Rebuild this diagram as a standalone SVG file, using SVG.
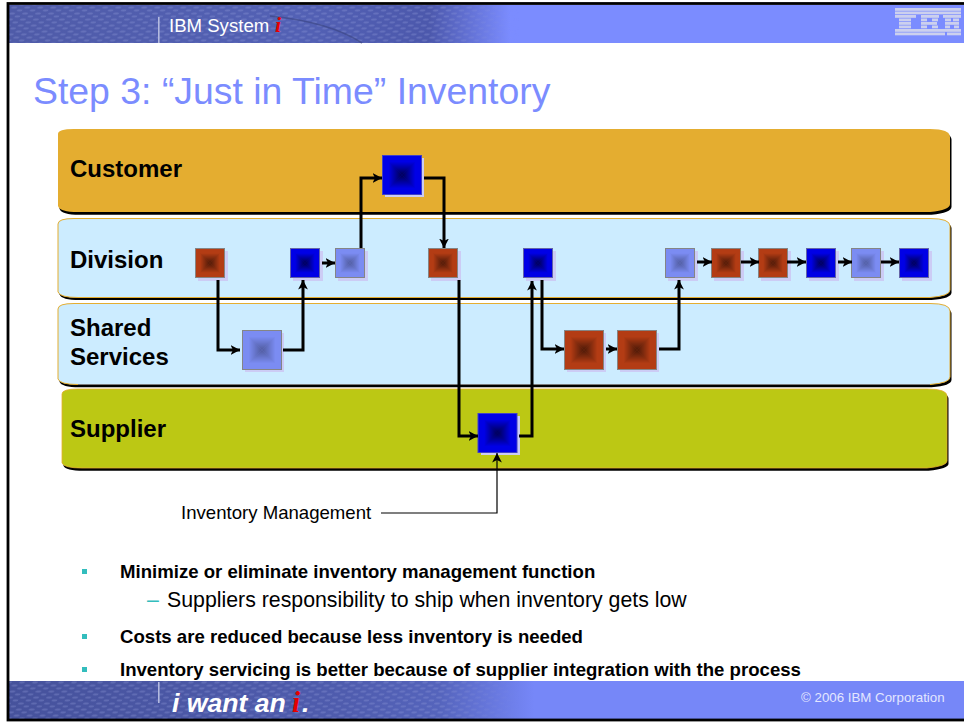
<svg xmlns="http://www.w3.org/2000/svg" width="964" height="723" viewBox="0 0 964 723">
<style>
text{font-family:"Liberation Sans",Arial,sans-serif;fill:#000}
.lab{font-size:24px;font-weight:bold}
.b{font-size:18.6px;font-weight:bold}
.ln{fill:none;stroke:#000;stroke-width:3;marker-end:url(#ah)}
.sh{fill:#ccccf5}
.blue{fill:#0000e6;stroke:#6464a8;stroke-width:1}
.red{fill:#b33c14;stroke:#858585;stroke-width:1}
.lite{fill:#7b8cf2;stroke:#858585;stroke-width:1}
.ored{opacity:.88}
.olite{opacity:.52}
.bul{fill:#33bdbd}
</style>
<defs>
<marker id="ah" markerUnits="userSpaceOnUse" markerWidth="11" markerHeight="11" refX="9.5" refY="5.5" orient="auto"><path d="M0,0.6L9.5,5.5L0,10.4L2.5,5.5Z" fill="#000"/></marker>
<marker id="ah2" markerUnits="userSpaceOnUse" markerWidth="11" markerHeight="11" refX="9.5" refY="5.5" orient="auto"><path d="M0,0.6L9.5,5.5L0,10.4L2.5,5.5Z" fill="#000"/></marker>
<linearGradient id="gT" x1="0" y1="0" x2="0" y2="1"><stop offset="0.3" stop-opacity="0"/><stop offset="1" stop-opacity="0.65"/></linearGradient>
<linearGradient id="gB" x1="0" y1="1" x2="0" y2="0"><stop offset="0.3" stop-opacity="0"/><stop offset="1" stop-opacity="0.65"/></linearGradient>
<linearGradient id="gL" x1="0" y1="0" x2="1" y2="0"><stop offset="0.3" stop-opacity="0"/><stop offset="1" stop-opacity="0.65"/></linearGradient>
<linearGradient id="gR" x1="1" y1="0" x2="0" y2="0"><stop offset="0.3" stop-opacity="0"/><stop offset="1" stop-opacity="0.65"/></linearGradient>
<symbol id="pyr" viewBox="0 0 30 30" preserveAspectRatio="none">
<polygon points="0,0 30,0 15,15" fill="url(#gT)"/><polygon points="0,30 30,30 15,15" fill="url(#gB)"/><polygon points="0,0 0,30 15,15" fill="url(#gL)"/><polygon points="30,0 30,30 15,15" fill="url(#gR)"/>
</symbol>
<linearGradient id="hdr" gradientUnits="userSpaceOnUse" x1="9" y1="0" x2="964" y2="0"><stop offset="0" stop-color="#4f5ba8"/><stop offset="0.3" stop-color="#5361b5"/><stop offset="0.44" stop-color="#4c58ac"/><stop offset="0.525" stop-color="#7b8cff"/><stop offset="1" stop-color="#7b8cff"/></linearGradient>
<linearGradient id="ftr" gradientUnits="userSpaceOnUse" x1="9" y1="0" x2="964" y2="0"><stop offset="0" stop-color="#46529c"/><stop offset="0.35" stop-color="#4f5cae"/><stop offset="0.45" stop-color="#5564bc"/><stop offset="0.55" stop-color="#7687f8"/><stop offset="1" stop-color="#7687f8"/></linearGradient>
<pattern id="tex" width="13" height="6" patternUnits="userSpaceOnUse" patternTransform="skewX(-20)"><ellipse cx="4" cy="1.5" rx="3" ry="1.1" fill="#98a3e0" opacity="0.3"/><ellipse cx="10.500" cy="4.5" rx="3" ry="1.1" fill="#98a3e0" opacity="0.3"/></pattern>
<linearGradient id="fade" gradientUnits="userSpaceOnUse" x1="0" y1="0" x2="520" y2="0"><stop offset="0" stop-color="#fff"/><stop offset="0.85" stop-color="#fff"/><stop offset="1" stop-color="#000"/></linearGradient>
<mask id="texm" maskUnits="userSpaceOnUse" x="0" y="0" width="964" height="723"><rect x="0" y="0" width="520" height="723" fill="url(#fade)"/></mask>
<filter id="soft" x="-5%" y="-5%" width="110%" height="110%"><feGaussianBlur stdDeviation="0.45"/></filter>
</defs>
<rect width="964" height="723" fill="#fff"/>
<g id="frame">
<rect x="9" y="5" width="955" height="38" fill="url(#hdr)"/>
<rect x="9" y="681" width="955" height="38" fill="url(#ftr)"/>
<g mask="url(#texm)"><rect x="9" y="5" width="510" height="38" fill="url(#tex)"/><rect x="9" y="681" width="510" height="38" fill="url(#tex)"/></g>
<path d="M270,16Q330,22 362,43" fill="none" stroke="#39437f" stroke-width="1.500" opacity="0.6"/>
<rect x="8" y="3.500" width="970" height="716.500" fill="none" stroke="#000" stroke-width="2.800"/>
<rect x="158" y="17" width="1.600" height="26" fill="#b4badf"/>
<rect x="158" y="682" width="1.600" height="21" fill="#b4badf"/>
<text x="169" y="31.500" font-size="18.600" style="fill:#fff">IBM System</text>
<text x="275" y="31.500" font-size="22" font-weight="bold" font-style="italic" style="font-family:'Liberation Serif',serif;fill:#e60000">i</text>
<text x="172" y="711.500" font-size="26.600" font-weight="bold" font-style="italic" style="fill:#fff">i want an</text>
<text x="292" y="711.500" font-size="29" font-weight="bold" font-style="italic" style="font-family:'Liberation Serif',serif;fill:#e60000">i</text>
<text x="302" y="711.500" font-size="26.600" font-weight="bold" font-style="italic" style="fill:#fff">.</text>
<text x="801" y="702" font-size="13.300" style="fill:#e3e6ff">© 2006 IBM Corporation</text>
<g id="logo" fill="#ccd0ee" filter="url(#soft)">
<rect x="895" y="8" width="66" height="2.800"/><rect x="895" y="11.500" width="66" height="2.800"/>
<rect x="895" y="15" width="21" height="2.800"/><rect x="921" y="15" width="18" height="2.800"/><rect x="943" y="15" width="18" height="2.800"/>
<rect x="899" y="18.500" width="12" height="2.800"/><rect x="921" y="18.500" width="6" height="2.800"/><rect x="932" y="18.500" width="6" height="2.800"/><rect x="945" y="18.500" width="6" height="2.800"/><rect x="953" y="18.500" width="6" height="2.800"/>
<rect x="899" y="22" width="12" height="2.800"/><rect x="921" y="22" width="16" height="2.800"/><rect x="945" y="22" width="14" height="2.800"/>
<rect x="899" y="25.500" width="12" height="2.800"/><rect x="921" y="25.500" width="6" height="2.800"/><rect x="932" y="25.500" width="6" height="2.800"/><rect x="945" y="25.500" width="5" height="2.800"/><rect x="954" y="25.500" width="5" height="2.800"/>
<rect x="895" y="29" width="66" height="2.800"/><rect x="895" y="32.500" width="50" height="2.800"/><rect x="947" y="32.500" width="14" height="2.800"/>
</g>
</g>
<text id="title" x="33" y="104" font-size="37.400" style="fill:#7b8cff">Step 3: “Just in Time” Inventory</text>
<g id="band-customer">
<path transform="translate(1.500,2.800)" d="M58,134Q58,129 74,129H930Q950,129 950,137V204Q950,210 930,212H78Q60,212 58,206Z" fill="#000"/>
<path d="M58,134Q58,129 74,129H930Q950,129 950,137V204Q950,210 930,212H78Q60,212 58,206Z" fill="#e4ad30"/>
<text class="lab" x="70" y="177">Customer</text>
</g>
<g id="band-division">
<path transform="translate(1.500,2.500)" d="M58,224Q58,218.500 74,218.500H930Q950,218.500 950,226V290Q950,296 930,297.500H78Q60,297.500 58,292Z" fill="#000"/>
<path d="M58,224Q58,218.500 74,218.500H930Q950,218.500 950,226V290Q950,296 930,297.500H78Q60,297.500 58,292Z" fill="#ccecff" stroke="#e4ad30"/>
<text class="lab" x="70" y="268">Division</text>
</g>
<g id="band-shared">
<path transform="translate(1.500,2.800)" d="M58,309Q58,303.500 74,303.500H930Q950,303.500 950,311V377Q950,383 930,384.500H78Q60,384.500 58,379Z" fill="#000"/>
<path d="M58,309Q58,303.500 74,303.500H930Q950,303.500 950,311V377Q950,383 930,384.500H78Q60,384.500 58,379Z" fill="#ccecff" stroke="#e4ad30"/>
<rect x="78" y="384" width="852" height="1" fill="#7c7c7c"/>
<text class="lab" x="70" y="336">Shared</text>
<text class="lab" x="70" y="365">Services</text>
</g>
<g id="band-supplier">
<path transform="translate(1.500,2.800)" d="M62,394Q62,389 78,389H927Q947,389 947,396V461Q947,466 927,468H82Q64,468 62,463Z" fill="#000"/>
<path d="M62,394Q62,389 78,389H927Q947,389 947,396V461Q947,466 927,468H82Q64,468 62,463Z" fill="#bcc814" stroke="#e4ad30" stroke-width="0.800"/>
<text class="lab" x="70" y="437">Supplier</text>
</g>
<g id="n1"><rect class="sh" x="198" y="251" width="30" height="30"/><rect class="red" x="195.500" y="248.500" width="29" height="29"/><use class="ored" href="#pyr" x="196" y="249" width="28" height="28"/></g>
<g id="n2"><rect class="sh" x="293" y="251" width="30" height="30"/><rect class="blue" x="290.500" y="248.500" width="29" height="29"/><use href="#pyr" x="291" y="249" width="28" height="28"/></g>
<g id="n3"><rect class="sh" x="338" y="251" width="30" height="30"/><rect class="lite" x="335.500" y="248.500" width="29" height="29"/><use class="olite" href="#pyr" x="336" y="249" width="28" height="28"/></g>
<g id="n4"><rect class="sh" x="431" y="251" width="30" height="30"/><rect class="red" x="428.500" y="248.500" width="29" height="29"/><use class="ored" href="#pyr" x="429" y="249" width="28" height="28"/></g>
<g id="n5"><rect class="sh" x="526" y="251" width="30" height="30"/><rect class="blue" x="523.500" y="248.500" width="29" height="29"/><use href="#pyr" x="524" y="249" width="28" height="28"/></g>
<g id="n6"><rect class="sh" x="668" y="251" width="30" height="30"/><rect class="lite" x="665.500" y="248.500" width="29" height="29"/><use class="olite" href="#pyr" x="666" y="249" width="28" height="28"/></g>
<g id="n7"><rect class="sh" x="714" y="251" width="30" height="30"/><rect class="red" x="711.500" y="248.500" width="29" height="29"/><use class="ored" href="#pyr" x="712" y="249" width="28" height="28"/></g>
<g id="n8"><rect class="sh" x="761" y="251" width="30" height="30"/><rect class="red" x="758.500" y="248.500" width="29" height="29"/><use class="ored" href="#pyr" x="759" y="249" width="28" height="28"/></g>
<g id="n9"><rect class="sh" x="809" y="251" width="30" height="30"/><rect class="blue" x="806.500" y="248.500" width="29" height="29"/><use href="#pyr" x="807" y="249" width="28" height="28"/></g>
<g id="n10"><rect class="sh" x="854" y="251" width="30" height="30"/><rect class="lite" x="851.500" y="248.500" width="29" height="29"/><use class="olite" href="#pyr" x="852" y="249" width="28" height="28"/></g>
<g id="n11"><rect class="sh" x="902" y="251" width="30" height="30"/><rect class="blue" x="899.500" y="248.500" width="29" height="29"/><use href="#pyr" x="900" y="249" width="28" height="28"/></g>
<g id="n12"><rect class="sh" x="385" y="158" width="39" height="39"/><rect class="blue" x="382.500" y="155.500" width="39" height="39" style="stroke:#4040c8"/><use href="#pyr" x="383" y="156" width="38" height="38"/></g>
<g id="n13"><rect class="sh" x="245" y="333" width="39" height="39"/><rect class="lite" x="242.500" y="330.500" width="39" height="39"/><use class="olite" href="#pyr" x="243" y="331" width="38" height="38"/></g>
<g id="n14"><rect class="sh" x="567" y="333" width="39" height="39"/><rect class="red" x="564.500" y="330.500" width="39" height="39"/><use class="ored" href="#pyr" x="565" y="331" width="38" height="38"/></g>
<g id="n15"><rect class="sh" x="620" y="333" width="39" height="39"/><rect class="red" x="617.500" y="330.500" width="39" height="39"/><use class="ored" href="#pyr" x="618" y="331" width="38" height="38"/></g>
<g id="n16"><rect class="sh" x="481" y="416" width="39" height="39"/><rect class="blue" x="478" y="413.500" width="39" height="39" style="stroke:#4040c8"/><use href="#pyr" x="478.500" y="414" width="38" height="38"/></g>
<g id="connectors">
<path class="ln" d="M218,280V350H240"/>
<path class="ln" d="M283,350H303V280"/>
<path class="ln" d="M322,263H335"/>
<path class="ln" d="M361,248V178H382"/>
<path class="ln" d="M424,178H444V248"/>
<path class="ln" d="M459,280V436H478"/>
<path class="ln" d="M519,436H532V281"/>
<path class="ln" d="M542,280V349H564"/>
<path class="ln" d="M606,349H617"/>
<path class="ln" d="M659,349H679V280"/>
<path class="ln" d="M697,262H712"/>
<path class="ln" d="M741,262H759"/>
<path class="ln" d="M787,262H806"/>
<path class="ln" d="M838,262H852"/>
<path class="ln" d="M881,262H899"/>
<path d="M381,513H497V453" fill="none" stroke="#000" stroke-width="1.200" marker-end="url(#ah2)"/>
</g>
<text id="im-label" x="181" y="519" font-size="18.600">Inventory Management</text>
<g id="bullets">
<rect class="bul" x="82" y="569" width="5" height="5"/>
<text class="b" x="120" y="578">Minimize or eliminate inventory management function</text>
<text x="147" y="607" font-size="21.300" style="fill:#33bdbd">–</text>
<text x="167" y="607" font-size="21.300">Suppliers responsibility to ship when inventory gets low</text>
<rect class="bul" x="82" y="634" width="5" height="5"/>
<text class="b" x="120" y="643">Costs are reduced because less inventory is needed</text>
<rect class="bul" x="82" y="667" width="5" height="5"/>
<text class="b" x="120" y="676">Inventory servicing is better because of supplier integration with the process</text>
</g>
</svg>
